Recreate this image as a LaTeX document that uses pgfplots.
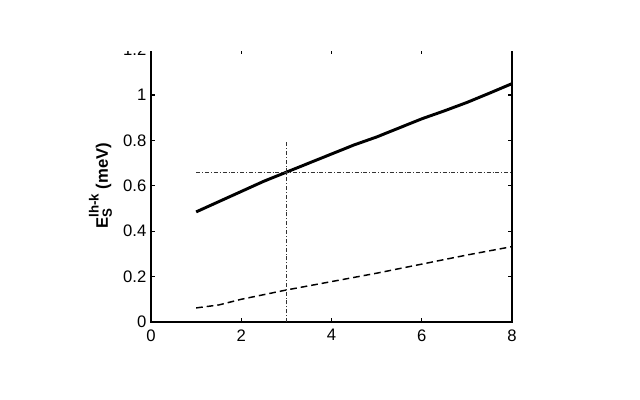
\documentclass[border=0pt]{standalone}
\usepackage{pgfplots}
\pgfplotsset{compat=1.18}
\usepackage{fontspec}
\setmainfont{Liberation Sans}
\begin{document}
\begin{tikzpicture}[x=0.75pt,y=0.75pt]
\path[use as bounding box] (-151,-78) rectangle (489,322);
\begin{axis}[
    at={(0,0)}, anchor=south west,
    scale only axis,
    width=270.75pt, height=204.3pt,
    xmin=0, xmax=8, ymin=0, ymax=1.2,
    xtick={0,2,4,6,8},
    ytick={0,0.2,0.4,0.6,0.8,1,1.2},
    yticklabels={0,0.2,0.4,0.6,0.8,1,1.2},
    tick align=inside,
    major tick length=3pt,
    axis line style={line width=1.5pt},
    every tick/.style={black, line width=1pt},
    tick label style={font=\fontsize{12.5}{14}\selectfont},
    xticklabel style={yshift=-2pt},
    /pgf/number format/assume math mode=true,
    ylabel={\bfseries E\rlap{\raisebox{-0.45ex}{\fontsize{10}{11}\selectfont S}}\raisebox{1.05ex}{\fontsize{10}{11}\selectfont lh-k} (meV)},
    ylabel style={font=\fontsize{12.5}{14}\selectfont, at={(axis description cs:-0.095,0.5)}, anchor=south},
    clip=false,
]
\addplot[black, line width=2.2pt] coordinates {(1,0.485) (1.5,0.53) (2,0.575) (2.5,0.62) (3,0.66) (3.5,0.70) (4,0.74) (4.5,0.78) (5,0.815) (5.5,0.855) (6,0.895) (6.5,0.93) (7,0.967) (7.5,1.008) (8,1.05)};
\addplot[black, line width=1.1pt, dash pattern=on 5pt off 3pt] coordinates {(1,0.062) (1.5,0.075) (2,0.1) (3,0.141) (4,0.178) (5,0.215) (6,0.255) (7,0.295) (8,0.332)};
\addplot[black!80, line width=0.5pt, dash pattern=on 3pt off 1.5pt on 0.6pt off 1.5pt] coordinates {(1,0.66) (8,0.66)};
\addplot[black!80, line width=0.5pt, dash pattern=on 3pt off 1.5pt on 0.6pt off 1.5pt] coordinates {(3,0) (3,0.8)};
\end{axis}
\fill[white] (-151,270.5) rectangle (489,322);
\end{tikzpicture}
\end{document}
